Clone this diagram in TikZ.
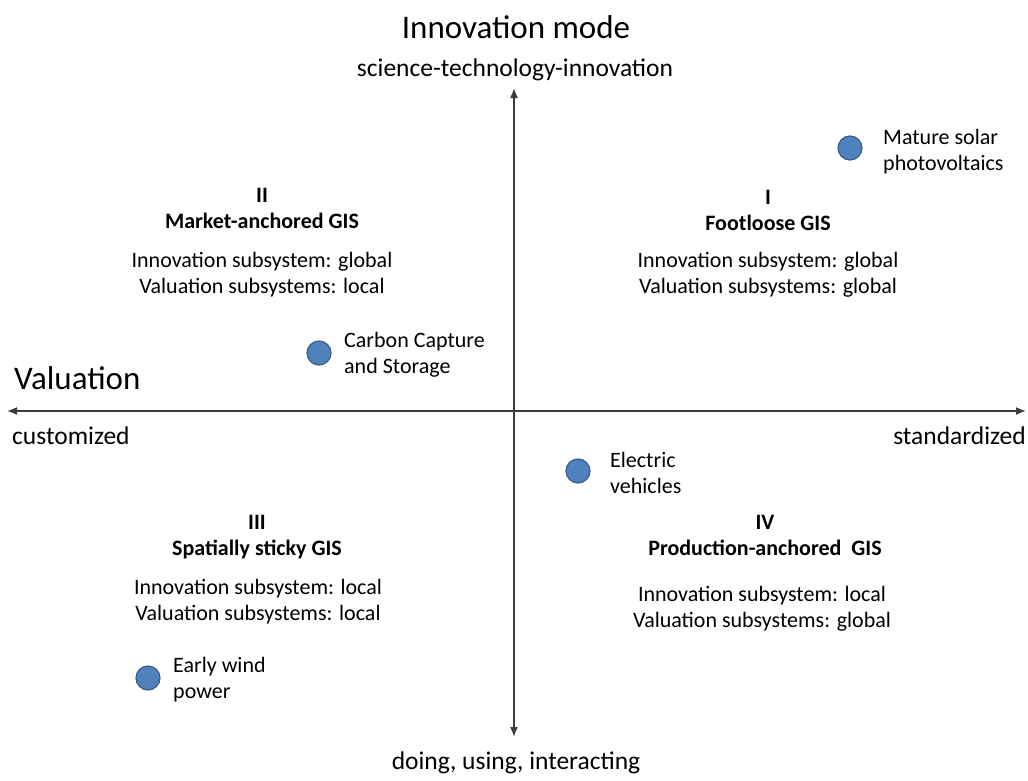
\documentclass[tikz,border=0pt]{standalone}
\usepackage{fontspec}
\setmainfont{Carlito}
\usetikzlibrary{arrows.meta}
\definecolor{axisgray}{HTML}{3C3C3C}
\definecolor{dotblue}{HTML}{4F81BD}
\definecolor{dotedge}{HTML}{385D8A}
\tikzset{
  axisline/.style={draw=axisgray, line width=1.6pt, -{Latex[length=10pt,width=8pt]}},
  casedot/.style={circle, fill=dotblue, draw=dotedge, line width=1.2pt, minimum size=24pt, inner sep=0pt},
  caselabel/.style={anchor=base west, align=left, font=\fontsize{22}{26}\selectfont, inner sep=0pt},
  quadtitle/.style={anchor=base, align=center, font=\fontsize{22}{26}\selectfont\bfseries, inner sep=0pt},
  quadtext/.style={anchor=base, align=center, font=\fontsize{22}{25.5}\selectfont, inner sep=0pt},
  axistext/.style={anchor=base, font=\fontsize{25.5}{30}\selectfont, inner sep=0pt},
  axistitle/.style={anchor=base, font=\fontsize{33}{38}\selectfont, inner sep=0pt}
}
\begin{document}
\begin{tikzpicture}[x=1pt,y=-1pt]
  \useasboundingbox (0,0) rectangle (1028,780);
  % axes
  \coordinate (top) at (514,88);
  \coordinate (bottom) at (514,737);
  \coordinate (left) at (7,411);
  \coordinate (right) at (1026,411);
  \coordinate (origin) at (514,411);
  \draw[axisline] (origin) -- (top);
  \draw[axisline] (origin) -- (bottom);
  \draw[axisline] (origin) -- (left);
  \draw[axisline] (origin) -- (right);
  % axis texts
  \node (Mode) at (516,38) [axistitle] {Innovation mode};
  \node (Sci) at (515,76) [axistext] {science-technology-innovation};
  \node (Doing) at (516,769) [axistext] {doing, using, interacting};
  \node (Val) at (14,389) [axistitle, anchor=base west] {Valuation};
  \node (Cust) at (12,444) [axistext, anchor=base west] {customized};
  \node (Std) at (1026,444) [axistext, anchor=base east] {standardized};
  % quadrants (base = last line)
  \node (Q1) at (768,230) [quadtitle] {I\\Footloose GIS};
  \node (Q1s) at (768,293) [quadtext] {Innovation subsystem: global\\Valuation subsystems: global};
  \node (Q2) at (262,228) [quadtitle] {II\\Market-anchored GIS};
  \node (Q2s) at (262,293) [quadtext] {Innovation subsystem: global\\Valuation subsystems: local};
  \node (Q3) at (257,555) [quadtitle] {III\\Spatially sticky GIS};
  \node (Q3s) at (258,620) [quadtext] {Innovation subsystem: local\\Valuation subsystems: local};
  \node (Q4) at (765,555) [quadtitle] {IV\\Production-anchored~ GIS};
  \node (Q4s) at (762,627) [quadtext] {Innovation subsystem: local\\Valuation subsystems: global};
  % cases
  \node (PV) at (850,148) [casedot] {};
  \node (PVl) at (883,170) [caselabel] {Mature solar\\photovoltaics};
  \node (CCS) at (319,353) [casedot] {};
  \node (CCSl) at (344,373) [caselabel] {Carbon Capture\\and Storage};
  \node (EV) at (578,471) [casedot] {};
  \node (EVl) at (610,493) [caselabel] {Electric\\vehicles};
  \node (Wind) at (148,678) [casedot] {};
  \node (Windl) at (173,698) [caselabel] {Early wind\\power};
\end{tikzpicture}
\end{document}
